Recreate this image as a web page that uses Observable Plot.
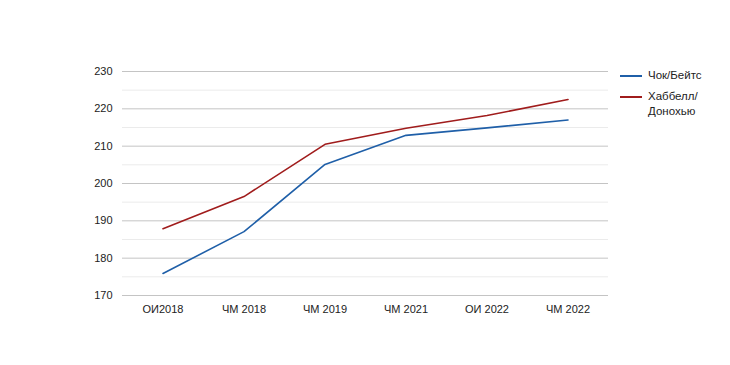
<!DOCTYPE html>
<html><head><meta charset="utf-8">
<script src="https://cdn.jsdelivr.net/npm/d3@7"></script>
<script src="https://cdn.jsdelivr.net/npm/@observablehq/plot@0.6"></script>
<style>
body{margin:0;background:#fff;font-family:"Liberation Sans",Arial,sans-serif;}
#wrap{position:relative;width:730px;height:365px;}
#legend{position:absolute;left:620px;top:68px;font-size:11.5px;color:#222;line-height:15px;}
.item{display:flex;align-items:flex-start;margin-bottom:6px;}
.sw{width:22px;height:2px;margin-top:7px;margin-right:6px;flex:none;}
</style>
</head><body>
<div id="wrap"><div id="legend"></div></div>
<script>
const categories = ["ОИ2018","ЧМ 2018","ЧМ 2019","ЧМ 2021","ОИ 2022","ЧМ 2022"];
const seriesNames = ["Чок/Бейтс","Хаббелл/Донохью"];
const chockBates = [175.9,187.1,205.1,212.9,214.9,217.0];
const hubbellDonohue = [187.9,196.5,210.5,214.8,218.2,222.5];
const colors = ["#1f5fa8","#a01c1c"];
const yTicks = [170,180,190,200,210,220,230];
const yMinor = [175,185,195,205,215,225];

const data = [];
categories.forEach((c,i)=>{
  data.push({cat:c, value:chockBates[i], series:seriesNames[0]});
  data.push({cat:c, value:hubbellDonohue[i], series:seriesNames[1]});
});

const chart = Plot.plot({
  width:730, height:365,
  marginLeft:122, marginRight:122, marginTop:71, marginBottom:70,
  style:{fontFamily:"Liberation Sans, Arial, sans-serif", fontSize:"11px", color:"#222", background:"#fff"},
  x:{type:"band", domain:categories, padding:0, label:null, tickSize:0, tickPadding:10},
  y:{domain:[170,230], ticks:yTicks, label:null, tickSize:0, tickPadding:10},
  color:{domain:seriesNames, range:colors},
  marks:[
    Plot.ruleY(yMinor,{stroke:"#ebebeb", strokeWidth:1}),
    Plot.ruleY(yTicks,{stroke:"#c4c4c4", strokeWidth:1}),
    Plot.line(data,{x:"cat", y:"value", z:"series", stroke:"series", strokeWidth:1.6, curve:"linear"}),
  ]
});
// shift x positions to band centers: band scale puts lines at band start by default; use explicit centering
document.getElementById("wrap").prepend(chart);

const legend = document.getElementById("legend");
const labels = [["Чок/Бейтс"],["Хаббелл/","Донохью"]];
labels.forEach((l,i)=>{
  const it = document.createElement("div"); it.className="item";
  const sw = document.createElement("div"); sw.className="sw"; sw.style.background=colors[i];
  const t = document.createElement("div"); t.innerHTML = l.join("<br>");
  it.append(sw,t); legend.append(it);
});
</script>
</body></html>
